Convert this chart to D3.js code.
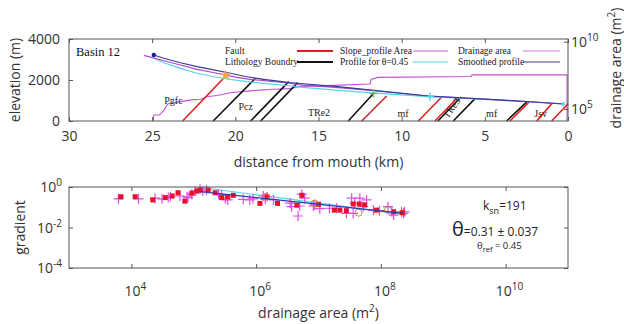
<!DOCTYPE html>
<html>
<head>
<meta charset="utf-8">
<script src="https://cdn.jsdelivr.net/npm/d3@7"></script>
<style>
  body { margin: 0; background: #fff; }
  svg { display: block; font-family: "Open Sans", sans-serif; }
  .serif { font-family: "Liberation Serif", "Times New Roman", serif; }
  .tick line { stroke: #555; }
  .domain { display: none; }
</style>
</head>
<body>
<svg width="624" height="324"></svg>
<script>
// ---- top panel: long profile, [distance km, elevation m]
const rawProfile = [[25.5, 3200], [24.3, 2940], [23.3, 2730], [22.3, 2520], [21.1, 2330], [19.9, 2130],
  [19.1, 2030], [18.3, 1970], [16.7, 1840], [16.1, 1760], [14, 1640], [11.8, 1490], [8.4, 1220],
  [5, 1070], [2.5, 950], [0.3, 840]];
const smoothProfile = [[24.9, 3220], [24.3, 3060], [23.3, 2840], [22.3, 2650], [21.3, 2490], [20.3, 2330],
  [19.3, 2160], [18.3, 2030], [16.7, 1870], [16.1, 1830], [14, 1690], [11.8, 1510], [8.4, 1220],
  [5, 1070], [2.5, 950], [0.3, 830]];
const refProfile = [[24.9, 3060], [24.3, 2840], [23.3, 2570], [22.3, 2330], [21.3, 2160], [20.3, 2030],
  [19.3, 1920], [18.3, 1840], [16.7, 1720], [16.1, 1650], [14, 1510], [11.8, 1370], [8.4, 1185],
  [5, 1050], [2.5, 940], [0.3, 830]];
// drainage area along the profile, [distance km, area m2]
const drainage = [[24.92, 1.3e4], [24.92, 3.0e4], [24.87, 3.5e4], [24.57, 3.5e4], [24.27, 8.5e4],
  [24.11, 2.0e5], [23.97, 2.6e5], [23.27, 3.5e5], [22.67, 4.7e5], [22.07, 5.2e5], [21.72, 8.1e5],
  [21.12, 9.8e5], [20.72, 1.23e6], [20.32, 1.6e6], [19.72, 1.9e6], [19.12, 2.2e6], [18.34, 2.6e6],
  [17.74, 2.9e6], [16.71, 3.2e6], [16.11, 4.7e6], [14.9, 5.2e6], [11.9, 7.2e6], [11.84, 1.55e7],
  [11.42, 2.2e7], [5.83, 2.6e7], [5.77, 3.4e7], [0.06, 3.4e7], [0.06, 1.3e4]];
// slanted fault / boundary traces: [km at base, km at top, elevation at top]
const faults = [[23.17, 20.58, 2195], [12.4, 10.9, 1220], [9.0, 7.59, 1170], [8.0, 6.6, 1170],
  [3.49, 2.34, 930], [1.88, 0.98, 845], [0.98, 0.0, 845]];
const lithBounds = [[21.33, 18.8, 2080], [19.08, 16.79, 1920], [18.48, 16.25, 1870], [13.21, 11.71, 1330],
  [7.82, 6.43, 1170], [6.9, 5.59, 1090], [3.69, 2.48, 930]];
const unitNames = ["Pgfc", "Pcz", "TRe2", "mf", "TRe3", "mf", "Jsv"];
const unitKm = [23.72, 19.38, 14.97, 9.92, 7.0, 4.59, 1.64];
const unitElev = [1024, 683, 405, 390, 634, 390, 390];
const distTicks = [30, 25, 20, 15, 10, 5, 0];
const elevTicks = [0, 2000, 4000];
const areaTicks = [5, 10];

// ---- bottom panel: slope-area, [area m2, gradient]
const slopeSquares = [[6.8e3, 0.33], [1.15e4, 0.33], [2.2e4, 0.23], [3.5e4, 0.30], [4.5e4, 0.36],
  [5.6e4, 0.52], [7.2e4, 0.20], [9.3e4, 0.49], [1.12e5, 0.63], [1.26e5, 0.71], [1.7e5, 0.71],
  [2.2e5, 0.52], [2.8e5, 0.30], [3.5e5, 0.33], [4.3e5, 0.39], [1.15e6, 0.155], [1.5e6, 0.33],
  [2.2e6, 0.155], [4.5e6, 0.126], [5.4e6, 0.39], [1.0e7, 0.14], [1.8e7, 0.072], [2.2e7, 0.072],
  [2.8e7, 0.068], [3.6e7, 0.145], [4.5e7, 0.145], [5.5e7, 0.13], [8.5e7, 0.072], [1.6e8, 0.060],
  [2.2e8, 0.054]];
const slopePluses = [[6.2e3, 0.26], [1.3e4, 0.26], [2.4e4, 0.28], [3.1e4, 0.26], [3.9e4, 0.30],
  [4.2e4, 0.33], [6.0e4, 0.36], [7.8e4, 0.33], [8.1e4, 0.30], [9.3e4, 0.44], [1.05e5, 0.63],
  [1.26e5, 0.78], [1.4e5, 0.63], [1.6e5, 0.71], [2.5e5, 0.44], [2.8e5, 0.40], [3.2e5, 0.26],
  [3.5e5, 0.23], [6.2e5, 0.245], [7.9e5, 0.23], [8.9e5, 0.26], [1.3e6, 0.36], [1.4e6, 0.245],
  [1.5e6, 0.33], [1.9e6, 0.23], [3.5e6, 0.16], [3.7e6, 0.107], [4.7e6, 0.037], [5.0e6, 0.115],
  [5.4e6, 0.44], [6.0e6, 0.28], [8.3e6, 0.115], [8.7e6, 0.13], [1.05e7, 0.085], [1.5e7, 0.089],
  [1.95e7, 0.089], [2.8e7, 0.050], [3.4e7, 0.28], [3.6e7, 0.050], [3.8e7, 0.16], [4.6e7, 0.28],
  [5.2e7, 0.107], [5.9e7, 0.23], [7.6e7, 0.072], [9.5e7, 0.068], [1.3e8, 0.107], [1.5e8, 0.060],
  [1.6e8, 0.041], [2.15e8, 0.060], [2.3e8, 0.050], [2.4e8, 0.060]];
const binCircles = [[1.4e6, 0.33], [8.7e6, 0.155], [4.4e7, 0.054], [1.3e8, 0.072]];
const refFit = [[1.26e5, 0.97], [2.6e8, 0.042]];
const bestFit = [[1.26e5, 0.59], [2.3e8, 0.05]];
const areaExpTicks = [4, 6, 8, 10];
const gradExpTicks = [0, -2, -4];

const legendItems = [
  { label: "Fault", color: "#e02020" },
  { label: "Lithology Boundry", color: "#111" },
  { label: "Slope_profile Area", color: "#d25ad8" },
  { label: "Profile for \u03b8=0.45", color: "#52d6e8" },
  { label: "Drainage area", color: "#d27ee0" },
  { label: "Smoothed profile", color: "#3b3a98" }
];

const svg = d3.select("svg");
const axisCol = "#555", textCol = "#333";

// ================= top panel =================
const topBox = { l: 69, r: 568, t: 39, b: 121 };
const x = d3.scaleLinear().domain([30, 0]).range([topBox.l, topBox.r]);
const y = d3.scaleLinear().domain([0, 4000]).range([topBox.b, topBox.t]);
const yA = d3.scaleLog().domain([Math.pow(10, 4.1), Math.pow(10, 10.2)]).range([topBox.b, topBox.t]);

const line = d3.line().x(d => x(d[0])).y(d => y(d[1]));
const gTop = svg.append("g");

// drainage area (right axis)
gTop.append("path")
  .datum(drainage)
  .attr("d", d3.line().x(d => x(d[0])).y(d => yA(d[1])))
  .attr("fill", "none").attr("stroke", "#c94fd6").attr("stroke-width", 1.1);

// fault & lithology traces
function traces(data, color) {
  gTop.selectAll(null)
    .data(data)
    .join("line")
      .attr("x1", d => x(d[0])).attr("y1", y(0))
      .attr("x2", d => x(d[1])).attr("y2", d => y(d[2]))
      .attr("stroke", color).attr("stroke-width", 1.6);
}
traces(lithBounds, "#111");
traces(faults, "#e02020");

gTop.append("path").datum(refProfile).attr("d", line)
  .attr("fill", "none").attr("stroke", "#52d6e8").attr("stroke-width", 1.2);
gTop.append("path").datum(rawProfile).attr("d", line)
  .attr("fill", "none").attr("stroke", "#b443cc").attr("stroke-width", 1.1);
gTop.append("path").datum(smoothProfile).attr("d", line)
  .attr("fill", "none").attr("stroke", "#3b3a98").attr("stroke-width", 1.2);

// markers along the profile
gTop.append("circle").attr("cx", x(24.9)).attr("cy", y(3220)).attr("r", 2.2).attr("fill", "#1a1a9a");
gTop.append("circle").attr("cx", x(0.3)).attr("cy", y(830)).attr("r", 2).attr("fill", "#52d6e8");
gTop.append("path")
  .attr("d", d3.symbol(d3.symbolStar, 40)())
  .attr("transform", `translate(${x(20.58)},${y(2230)})`)
  .attr("fill", "#f4a640");
function plus(g, cx, cy, s, color, w) {
  g.append("path")
    .attr("d", `M${cx - s},${cy}H${cx + s}M${cx},${cy - s}V${cy + s}`)
    .attr("stroke", color).attr("stroke-width", w).attr("fill", "none");
}
plus(gTop, x(11.7), y(1340), 4, "#6ac23a", 1.5);
plus(gTop, x(8.3), y(1185), 4, "#52d6e8", 1.5);

// unit labels
gTop.selectAll("text.unit")
  .data(unitNames)
  .join("text")
    .attr("class", "unit serif")
    .attr("transform", (d, i) => `translate(${x(unitKm[i])},${y(unitElev[i])})` + (d === "TRe3" ? " rotate(-55)" : ""))
    .attr("text-anchor", "middle").attr("dominant-baseline", "central")
    .attr("font-size", 10).attr("fill", "#222")
    .text(d => d);

gTop.append("text").attr("class", "serif")
  .attr("x", 76).attr("y", 56).attr("font-size", 12.5).attr("fill", "#111").text("Basin 12");

// legend
const legCols = [225, 340, 458], legLines = [[297, 333], [413, 448], [523, 560]], legRows = [54, 65];
legendItems.forEach((d, i) => {
  const c = Math.floor(i / 2), r = i % 2;
  gTop.append("text").attr("class", "serif")
    .attr("x", legCols[c]).attr("y", legRows[r])
    .attr("font-size", 9.5).attr("fill", "#222").text(d.label);
  gTop.append("line")
    .attr("x1", legLines[c][0]).attr("x2", legLines[c][1])
    .attr("y1", legRows[r] - 3).attr("y2", legRows[r] - 3)
    .attr("stroke", d.color).attr("stroke-width", c === 0 ? 1.8 : 1.2);
});

// frame and ticks
gTop.append("rect")
  .attr("x", topBox.l).attr("y", topBox.t).attr("width", topBox.r - topBox.l).attr("height", topBox.b - topBox.t)
  .attr("fill", "none").attr("stroke", axisCol);

gTop.append("g").attr("transform", `translate(0,${topBox.b})`)
  .call(d3.axisBottom(x).tickValues(distTicks).tickSizeInner(-4).tickSizeOuter(0).tickPadding(10))
  .call(g => g.selectAll("text").attr("font-size", 14).attr("fill", textCol).attr("font-family", "Open Sans"));
gTop.append("g").attr("transform", `translate(0,${topBox.t})`)
  .call(d3.axisTop(x).tickValues(distTicks).tickSizeInner(-4).tickSizeOuter(0).tickFormat(""));
gTop.append("g").attr("transform", `translate(${topBox.l},0)`)
  .call(d3.axisLeft(y).tickValues(elevTicks).tickFormat(d3.format("d")).tickSizeInner(-4).tickSizeOuter(0).tickPadding(9))
  .call(g => g.selectAll("text").attr("font-size", 14).attr("fill", textCol).attr("font-family", "Open Sans"));
gTop.append("g").attr("transform", `translate(${topBox.r},0)`)
  .call(d3.axisRight(yA).tickValues(areaTicks.map(e => Math.pow(10, e))).tickSizeInner(-4).tickSizeOuter(0).tickFormat(""));

function powLabel(g, px, py, exp, anchor, size) {
  const t = g.append("text").attr("x", px).attr("y", py)
    .attr("text-anchor", anchor).attr("fill", textCol).attr("font-size", size);
  t.append("tspan").text("10");
  t.append("tspan").attr("dy", -6).attr("font-size", size * 0.72).text(exp);
  return t;
}
areaTicks.forEach(e => powLabel(gTop, 571, yA(Math.pow(10, e)) + 5, e, "start", 14));

gTop.append("text")
  .attr("transform", `translate(20,${(topBox.t + topBox.b) / 2}) rotate(-90)`)
  .attr("text-anchor", "middle").attr("font-size", 14).attr("fill", textCol)
  .text("elevation (m)");
gTop.append("text")
  .attr("x", (topBox.l + topBox.r) / 2).attr("y", 167)
  .attr("text-anchor", "middle").attr("font-size", 14).attr("fill", textCol)
  .text("distance from mouth (km)");
const rl = gTop.append("text")
  .attr("transform", `translate(621,68) rotate(-90)`)
  .attr("text-anchor", "middle").attr("font-size", 14).attr("fill", textCol);
rl.append("tspan").text("drainage area (m");
rl.append("tspan").attr("dy", -6).attr("font-size", 10).text("2");
rl.append("tspan").attr("dy", 6).text(")");

// ================= bottom panel =================
const botBox = { l: 69, r: 568, t: 187, b: 268 };
const xB = d3.scaleLog().domain([1e3, 1e11]).range([botBox.l, botBox.r]);
const yB = d3.scaleLog().domain([1e-4, 1]).range([botBox.b, botBox.t]);
const gBot = svg.append("g");

const fitLine = d3.line().x(d => xB(d[0])).y(d => yB(d[1]));
gBot.append("path").datum(refFit).attr("d", fitLine)
  .attr("fill", "none").attr("stroke", "#52d6e8").attr("stroke-width", 1.2);

gBot.selectAll("path.pl")
  .data(slopePluses)
  .join("path")
    .attr("class", "pl")
    .attr("d", d => { const cx = xB(d[0]), cy = yB(d[1]); return `M${cx - 5},${cy}H${cx + 5}M${cx},${cy - 5}V${cy + 5}`; })
    .attr("stroke", "#e04ce6").attr("stroke-width", 1.2).attr("fill", "none");

gBot.selectAll("rect.sq")
  .data(slopeSquares)
  .join("rect")
    .attr("class", "sq")
    .attr("x", d => xB(d[0]) - 2.5).attr("y", d => yB(d[1]) - 2.5)
    .attr("width", 5).attr("height", 5)
    .attr("fill", "#e8102a");

gBot.selectAll("circle.bin")
  .data(binCircles)
  .join("circle")
    .attr("class", "bin")
    .attr("cx", d => xB(d[0])).attr("cy", d => yB(d[1])).attr("r", 3.5)
    .attr("fill", "none").attr("stroke", "#c0803a").attr("stroke-width", 0.9);

gBot.append("path").datum(bestFit).attr("d", fitLine)
  .attr("fill", "none").attr("stroke", "#2f3aa8").attr("stroke-width", 1.2);

gBot.append("rect")
  .attr("x", botBox.l).attr("y", botBox.t).attr("width", botBox.r - botBox.l).attr("height", botBox.b - botBox.t)
  .attr("fill", "none").attr("stroke", axisCol);

const aTicks = areaExpTicks.map(e => Math.pow(10, e));
const gTicks = gradExpTicks.map(e => Math.pow(10, e));
gBot.append("g").attr("transform", `translate(0,${botBox.b})`)
  .call(d3.axisBottom(xB).tickValues(aTicks).tickSizeInner(-4).tickSizeOuter(0).tickFormat(""));
gBot.append("g").attr("transform", `translate(0,${botBox.t})`)
  .call(d3.axisTop(xB).tickValues(aTicks).tickSizeInner(-4).tickSizeOuter(0).tickFormat(""));
gBot.append("g").attr("transform", `translate(${botBox.l},0)`)
  .call(d3.axisLeft(yB).tickValues(gTicks).tickSizeInner(-4).tickSizeOuter(0).tickFormat(""));
gBot.append("g").attr("transform", `translate(${botBox.r},0)`)
  .call(d3.axisRight(yB).tickValues(gTicks).tickSizeInner(-4).tickSizeOuter(0).tickFormat(""));

areaExpTicks.forEach(e => powLabel(gBot, xB(Math.pow(10, e)) + 4, 296, e, "middle", 14));
gradExpTicks.forEach(e => powLabel(gBot, 62, yB(Math.pow(10, e)) + 5, e, "end", 14));

gBot.append("text")
  .attr("transform", `translate(25,${(botBox.t + botBox.b) / 2}) rotate(-90)`)
  .attr("text-anchor", "middle").attr("font-size", 14).attr("fill", textCol)
  .text("gradient");
const bl = gBot.append("text")
  .attr("x", (botBox.l + botBox.r) / 2).attr("y", 318)
  .attr("text-anchor", "middle").attr("font-size", 14).attr("fill", textCol);
bl.append("tspan").text("drainage area (m");
bl.append("tspan").attr("dy", -6).attr("font-size", 10).text("2");
bl.append("tspan").attr("dy", 6).text(")");

// fit annotations
const ks = gBot.append("text").attr("x", 483).attr("y", 210).attr("font-size", 12).attr("fill", "#222");
ks.append("tspan").text("k");
ks.append("tspan").attr("dy", 4).attr("font-size", 9).text("sn");
ks.append("tspan").attr("dy", -4).text("=191");
const th = gBot.append("text").attr("x", 452).attr("y", 236).attr("font-size", 12).attr("fill", "#222");
th.append("tspan").attr("font-size", 20).text("\u03b8");
th.append("tspan").text("=0.31 \u00b1 0.037");
const tr = gBot.append("text").attr("x", 477).attr("y", 249).attr("font-size", 9.5).attr("fill", "#222");
tr.append("tspan").text("\u03b8");
tr.append("tspan").attr("dy", 3).attr("font-size", 7.5).text("ref");
tr.append("tspan").attr("dy", -3).text(" = 0.45");
</script>
</body>
</html>
